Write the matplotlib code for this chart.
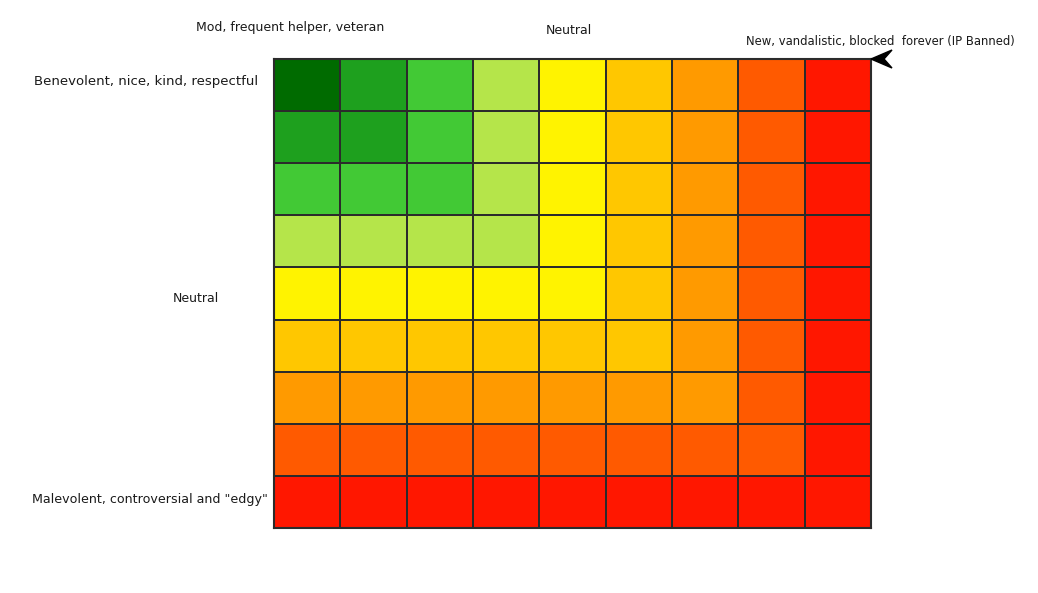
import matplotlib
matplotlib.use("Agg")
import matplotlib.pyplot as plt
from matplotlib.colors import ListedColormap, BoundaryNorm
from matplotlib.patches import Polygon
import numpy as np

# Reputation level of each cell (row = behaviour, column = status)
levels = [
    [0, 1, 2, 3, 4, 5, 6, 7, 8],
    [1, 1, 2, 3, 4, 5, 6, 7, 8],
    [2, 2, 2, 3, 4, 5, 6, 7, 8],
    [3, 3, 3, 3, 4, 5, 6, 7, 8],
    [4, 4, 4, 4, 4, 5, 6, 7, 8],
    [5, 5, 5, 5, 5, 5, 6, 7, 8],
    [6, 6, 6, 6, 6, 6, 6, 7, 8],
    [7, 7, 7, 7, 7, 7, 7, 7, 8],
    [8, 8, 8, 8, 8, 8, 8, 8, 8],
]
level_colors = ["#006b00", "#1ea01e", "#42c935", "#b5e54a", "#fff300",
                "#ffc700", "#ff9a00", "#ff5a00", "#ff1700"]

top_labels = ["Mod, frequent helper, veteran", "Neutral",
              "New, vandalistic, blocked  forever (IP Banned)"]
left_labels = ["Benevolent, nice, kind, respectful", "Neutral",
               "Malevolent, controversial and \"edgy\""]

W, H = 1038, 593
fig = plt.figure(figsize=(W / 100, H / 100), dpi=100)
fig.patch.set_facecolor("white")

x0, x1, y0, y1 = 274, 871, 59, 528
ax = fig.add_axes([x0 / W, 1 - y1 / H, (x1 - x0) / W, (y1 - y0) / H])

data = np.array(levels)
cmap = ListedColormap(level_colors)
norm = BoundaryNorm(np.arange(-0.5, len(level_colors) + 0.5, 1), cmap.N)
ax.pcolormesh(data, cmap=cmap, norm=norm, edgecolors="#2b2b2b", linewidth=1.3)
ax.set_xlim(0, data.shape[1])
ax.set_ylim(data.shape[0], 0)
ax.set_xticks([])
ax.set_yticks([])
for s in ax.spines.values():
    s.set_color("#2b2b2b")
    s.set_linewidth(1.5)

def fx(px):
    return px / W

def fy(py):
    return 1 - py / H

fs = 9.0
col = "#1a1a1a"
fig.text(fx(290), fy(27), top_labels[0], ha="center", va="center", fontsize=fs, color=col)
fig.text(fx(569), fy(30), top_labels[1], ha="center", va="center", fontsize=fs, color=col)
fig.text(fx(880), fy(41), top_labels[2], ha="center", va="center", fontsize=8.4, color=col)
fig.text(fx(146), fy(82), left_labels[0], ha="center", va="center", fontsize=9.5, color=col)
fig.text(fx(196), fy(298), left_labels[1], ha="center", va="center", fontsize=fs, color=col)
fig.text(fx(150), fy(500), left_labels[2], ha="center", va="center", fontsize=9.1, color=col)

arrow_px = [(871, 59), (892, 50), (884, 59), (892, 68)]
fig.patches.append(Polygon([(fx(x), fy(y)) for x, y in arrow_px], closed=True,
                           transform=fig.transFigure, facecolor="black",
                           edgecolor="black", figure=fig))

fig.savefig("out.png", dpi=100, facecolor="white")
